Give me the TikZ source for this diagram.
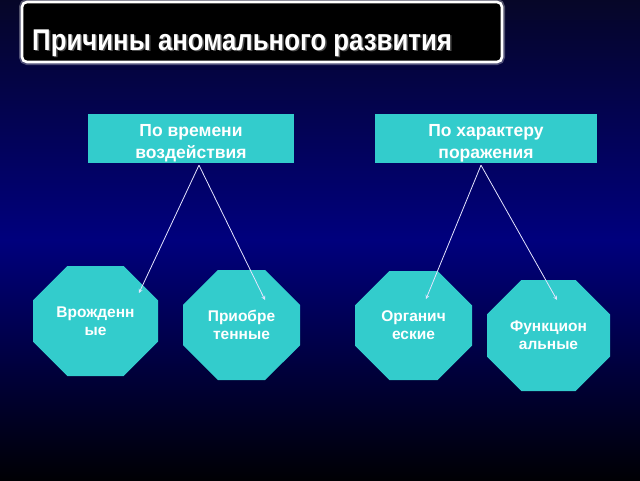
\documentclass[tikz,border=0pt]{standalone}
\usepackage{fontspec}
\setmainfont{Liberation Sans}
\newfontfamily\titlefont[FakeStretch=0.86]{Liberation Sans}
\usetikzlibrary{shapes.misc}
\definecolor{tealbox}{RGB}{51,204,204}
\definecolor{navytop}{RGB}{6,6,40}
\definecolor{navymid}{RGB}{0,0,125}
\definecolor{navybot}{RGB}{0,0,4}
\newcommand{\lowtop}{\rule{0pt}{22pt}}
\tikzset{
  catbox/.style={fill=tealbox, text=white, font=\bfseries\fontsize{17.5}{22}\selectfont, align=center, inner sep=0pt},
  octa/.style={chamfered rectangle, chamfered rectangle sep=20pt, fill=tealbox, text=white, font=\bfseries\fontsize{15.5}{18}\selectfont, align=center, inner sep=0pt},
  arr/.style={->, >=stealth, white!90!blue, line width=0.8pt}
}
\begin{document}
\begin{tikzpicture}[x=1pt,y=-1pt]
			\useasboundingbox (0,0) rectangle (640,480);
			\shade[top color=navytop, bottom color=navybot, middle color=navymid] (0,0) rectangle (640,480);
			% title
			\draw[white, opacity=0.3, line width=6pt, rounded corners=5pt] (22,2) rectangle (502,62);
			\draw[fill=black, draw=white, line width=2.6pt, rounded corners=5pt] (22,2) rectangle (502,62);
			\node[anchor=base west, text=gray!60!black, font=\titlefont\bfseries\fontsize{30}{36}\selectfont, inner sep=0pt] (shadow) at (33.5,51.5) {Причины аномального развития};
			\node[anchor=base west, text=white, font=\titlefont\bfseries\fontsize{30}{36}\selectfont, inner sep=0pt] (title) at (32,50) {Причины аномального развития};
			% categories
			\node[catbox, minimum width=206pt, minimum height=49pt] (time) at (191,138.5) {\lowtop По времени\\воздействия};
			\node[catbox, minimum width=222pt, minimum height=49pt] (kind) at (486,138.5) {\lowtop По характеру\\поражения};
			% kinds
			\node[octa, minimum width=125pt, minimum height=110pt] (born) at (95.5,321) {Врожденн\\ые};
			\node[octa, minimum width=117pt, minimum height=110pt] (acq) at (241.5,325) {Приобре\\тенные};
			\node[octa, minimum width=117pt, minimum height=109pt] (org) at (413.5,325.5) {Органич\\еские};
			\node[octa, minimum width=123pt, minimum height=111pt] (func) at (548.5,335.5) {Функцион\\альные};
			% arrows
			\coordinate (tborn) at (139,293);
			\coordinate (tacq) at (265,300);
			\coordinate (torg) at (426,299);
			\coordinate (tfunc) at (557,300);
			\draw[arr] ([xshift=8pt, yshift=-2pt]time.south) -- (tborn);
			\draw[arr] ([xshift=8pt, yshift=-2pt]time.south) -- (tacq);
			\draw[arr] ([xshift=-5pt, yshift=-2pt]kind.south) -- (torg);
			\draw[arr] ([xshift=-5pt, yshift=-2pt]kind.south) -- (tfunc);
		\end{tikzpicture}
\end{document}
